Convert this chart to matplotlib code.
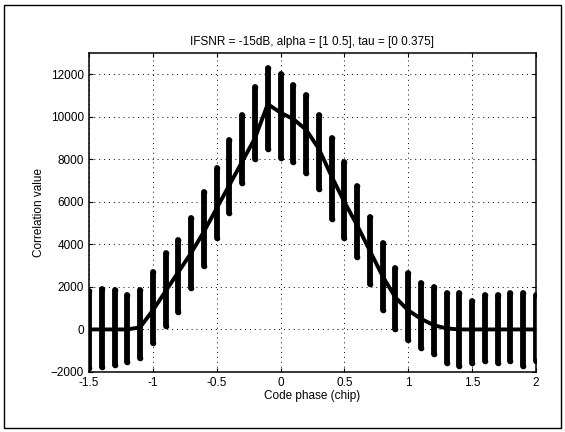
import numpy as np
import matplotlib.pyplot as plt
from matplotlib.patches import Rectangle

plt.rcParams['font.family'] = 'Liberation Sans'

# code phase samples (chip)
phase = [-1.5, -1.4, -1.3, -1.2, -1.1, -1.0, -0.9, -0.8, -0.7, -0.6, -0.5, -0.4,
         -0.3, -0.2, -0.1, 0.0, 0.1, 0.2, 0.3, 0.4, 0.5, 0.6, 0.7, 0.8,
         0.9, 1.0, 1.1, 1.2, 1.3, 1.4, 1.5, 1.6, 1.7, 1.8, 1.9, 2.0]

# mean correlation
mean_corr = [0, 0, 0, 0, 100, 900, 1800, 2700, 3600, 4600, 5700, 6800,
             7900, 9000, 10600, 10200, 9900, 9400, 8500, 7200, 6000, 4900, 3700, 2500,
             1500, 900, 500, 200, 50, 0, 0, 0, 0, 0, 0, 0]

# spread of the trials (max / min)
corr_hi = [1800, 1900, 1850, 1600, 1850, 2700, 3600, 4200, 5250, 6450, 7600, 8900,
           10100, 11400, 12300, 12000, 11500, 11050, 10100, 9000, 7900, 6750, 5300, 4050,
           2900, 2650, 2200, 2000, 1700, 1700, 1350, 1600, 1600, 1700, 1700, 1600]
corr_lo = [-1800, -1750, -1650, -1550, -1350, -650, 150, 800, 1950, 3000, 4300, 5500,
           6900, 8000, 8500, 8050, 7900, 7350, 6600, 5200, 4300, 3400, 2150, 900,
           0, -500, -850, -1150, -1600, -1700, -1600, -1500, -1600, -1500, -1700, -1500]

fig = plt.figure(figsize=(5.65, 4.32), dpi=100)
ax = fig.add_axes([0.1575, 0.139, 0.791, 0.738])

ax.vlines(phase, corr_lo, corr_hi, colors='black', linewidth=4.2, capstyle='round')
ax.scatter(phase, corr_hi, s=9, color='black', zorder=3)
ax.scatter(phase, corr_lo, s=9, color='black', zorder=3)
ax.plot(phase, mean_corr, color='black', linewidth=2.8, zorder=4)

ax.set_xlim(-1.5, 2)
ax.set_ylim(-2000, 13000)
ax.set_xticks([-1.5, -1, -0.5, 0, 0.5, 1, 1.5, 2])
ax.set_xticklabels(['-1.5', '-1', '-0.5', '0', '0.5', '1', '1.5', '2'])
ax.set_yticks(np.arange(-2000, 12001, 2000))
ax.grid(True, color='black', linestyle=(0, (1, 4)), linewidth=0.7)
ax.tick_params(direction='in', top=True, right=True, labelsize=8.5, length=3)
for s in ax.spines.values():
    s.set_linewidth(1.1)

ax.set_title('IFSNR = -15dB, alpha = [1 0.5], tau = [0 0.375]', fontsize=8.5, pad=6)
ax.set_xlabel('Code phase (chip)', fontsize=8.5, labelpad=1)
ax.set_ylabel('Correlation value', fontsize=8.5)

fig.patches.append(Rectangle((0.007, 0.01), 0.986, 0.978, transform=fig.transFigure,
                             fill=False, edgecolor='black', linewidth=1.0))

fig.savefig('out.png', dpi=100)
